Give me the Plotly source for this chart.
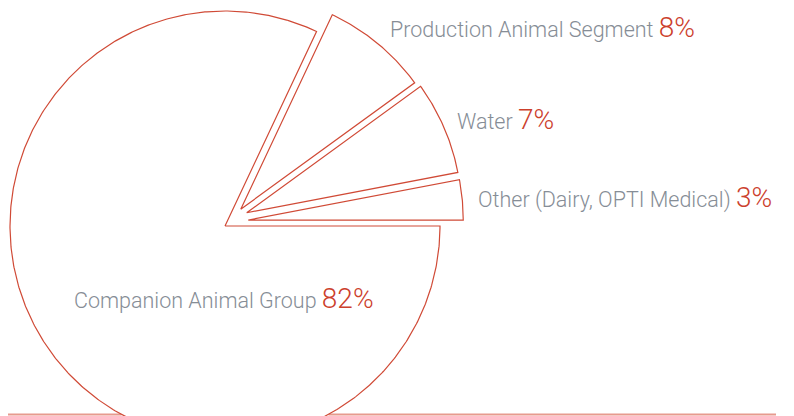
import numpy as np
import plotly.graph_objects as go

# ---- data ----
categories = ["Companion Animal Group", "Production Animal Segment", "Water",
              "Other (Dairy, OPTI Medical)"]
shares = [82, 8, 7, 3]
pct_labels = ["82%", "8%", "7%", "3%"]

# ---- style ----
W, H = 794, 416
OFF = 8                              # page body margin compensation
CX, CY, R = 225, 226, 215            # pie centre / radius (pixel space)
PULL_DIST = [0, 23, 25.4, 24]        # explode distance per slice
PULL_DIR = [0, 46.8, 31.5, 14.4]     # explode direction (deg)
LABEL_POS = [(72, 298), (388, 27), (455, 119), (476, 197)]
RED = "#cc402c"
LINE_RED = "#d04a36"
GRAY = "#868d96"
BASE_Y = 414.5
BASE_X_END = 776

fig = go.Figure()

# baseline (ground line), interrupted where the big circle meets it
half = np.sqrt(R**2 - (BASE_Y - CY) ** 2)
for xs in ([0, CX - half], [CX + half, BASE_X_END]):
    fig.add_trace(go.Scatter(x=xs, y=[BASE_Y, BASE_Y], mode="lines",
                             line=dict(color="#e79a8e", width=2),
                             hoverinfo="skip", showlegend=False))

total = sum(shares)
start = 0.0
for i, (cat, v) in enumerate(zip(categories, shares)):
    span = 360.0 * v / total
    th = np.radians(np.linspace(start, start - span, max(int(span * 2), 8)))
    ox = PULL_DIST[i] * np.cos(np.radians(PULL_DIR[i]))
    oy = -PULL_DIST[i] * np.sin(np.radians(PULL_DIR[i]))
    ax, ay = CX + ox, CY + oy
    xs = np.concatenate([[ax], ax + R * np.cos(th), [ax]])
    ys = np.concatenate([[ay], ay - R * np.sin(th), [ay]])
    fig.add_trace(go.Scatter(x=xs, y=ys, mode="lines", fill="toself",
                             fillcolor="white",
                             line=dict(color=LINE_RED, width=1.2),
                             name=cat, hoverinfo="name", showlegend=False))
    start -= span

for cat, p, (lx, ly) in zip(categories, pct_labels, LABEL_POS):
    fig.add_annotation(
        x=lx, y=ly, xref="x", yref="y", xanchor="left", yanchor="middle",
        showarrow=False,
        text=f"{cat} <span style='color:{RED};font-size:28px'>{p}</span>",
        font=dict(family="Roboto", size=21.5, color=GRAY, weight=300))

fig.update_layout(
    width=W, height=H, margin=dict(l=0, r=0, t=0, b=0),
    paper_bgcolor="white", plot_bgcolor="white",
    xaxis=dict(range=[OFF, W + OFF], visible=False, fixedrange=True),
    yaxis=dict(range=[H + OFF, OFF], visible=False, fixedrange=True),
)

fig.write_html("out.html")
